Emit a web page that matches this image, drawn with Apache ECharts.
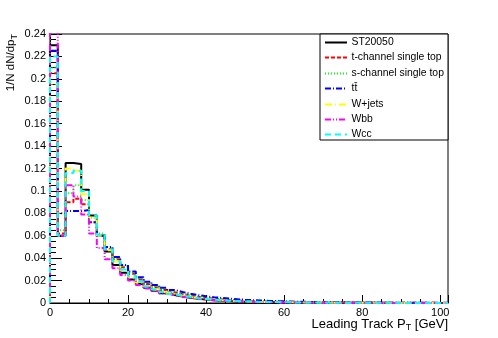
<!DOCTYPE html>
<html>
<head>
<meta charset="utf-8">
<script src="https://cdn.jsdelivr.net/npm/echarts@6/dist/echarts.min.js"></script>
<style>html,body{margin:0;padding:0;background:#fff;}#c{width:498px;height:338px;}</style>
</head>
<body>
<div id="c"></div>
<script>
// Histogram binning (GeV)
const BIN_WIDTH = 2;
const X_MAX = 102;
const seriesNames = ['ST20050', 't-channel single top', 's-channel single top', 'tt\u0304', 'W+jets', 'Wbb', 'Wcc'];

const st20050 = [0.230,0.060,0.125,0.124,0.101,0.078,0.060,0.046,0.034,0.027,
0.021,0.017,0.0135,0.011,0.0088,0.0072,0.0058,0.0047,0.0038,0.0031,
0.0025,0.0021,0.0017,0.0014,0.0012,0.0010,0.0009,0.0008,0.0007,0.0006,
0.0005,0.00045,0.0004,0.00035,0.0003,0.00028,0.00025,0.00022,0.0002,0.00018,
0.00016,0.00015,0.00014,0.00012,0.00011,0.0001,0.0001,0.00009,0.00008,0.00008,
0.00007];
const tChannel = [0.205,0.062,0.090,0.093,0.088,0.072,0.060,0.048,0.039,0.032,
0.026,0.021,0.017,0.014,0.0115,0.0095,0.0080,0.0066,0.0055,0.0046,
0.0039,0.0033,0.0028,0.0024,0.0020,0.0017,0.0015,0.0013,0.0011,0.0010,
0.0009,0.0008,0.0007,0.0006,0.00055,0.0005,0.00045,0.0004,0.00035,0.0003,
0.0003,0.00025,0.00022,0.0002,0.00018,0.00016,0.00015,0.00013,0.00012,0.0001,
0.0001];
const sChannel = [0.210,0.065,0.098,0.105,0.092,0.076,0.062,0.050,0.040,0.033,
0.027,0.022,0.018,0.0145,0.012,0.0098,0.0080,0.0066,0.0055,0.0045,
0.0038,0.0032,0.0027,0.0023,0.0019,0.0016,0.0014,0.0012,0.0010,0.0009,
0.0008,0.0007,0.0006,0.00055,0.0005,0.00045,0.0004,0.00035,0.0003,0.00027,
0.00025,0.00022,0.0002,0.00018,0.00016,0.00015,0.00013,0.00012,0.0001,0.0001,
0.00009];
const ttbar = [0.225,0.080,0.082,0.082,0.083,0.072,0.060,0.050,0.041,0.034,
0.028,0.023,0.019,0.016,0.0135,0.0115,0.0098,0.0083,0.0070,0.0060,
0.0052,0.0045,0.0039,0.0034,0.0029,0.0025,0.0022,0.0019,0.0017,0.0015,
0.0013,0.0011,0.0010,0.0009,0.0008,0.0007,0.0006,0.00055,0.0005,0.00045,
0.0004,0.00035,0.0003,0.00028,0.00025,0.00022,0.0002,0.00018,0.00016,0.00015,
0.00013];
const wjets = [0.195,0.080,0.120,0.118,0.097,0.076,0.060,0.047,0.037,0.029,
0.023,0.018,0.0145,0.0118,0.0095,0.0078,0.0063,0.0052,0.0043,0.0035,
0.0029,0.0024,0.0020,0.0017,0.0014,0.0012,0.0010,0.0009,0.0008,0.0007,
0.0006,0.0005,0.00045,0.0004,0.00035,0.0003,0.00027,0.00024,0.00021,0.00019,
0.00017,0.00015,0.00013,0.00012,0.0001,0.0001,0.00009,0.00008,0.00007,0.00007,
0.00006];
const wbb = [0.250,0.060,0.105,0.095,0.079,0.062,0.049,0.039,0.031,0.025,
0.020,0.016,0.013,0.0105,0.0085,0.0069,0.0056,0.0046,0.0037,0.0030,
0.0025,0.0020,0.0017,0.0014,0.0012,0.0010,0.0008,0.0007,0.0006,0.0005,
0.00045,0.0004,0.00035,0.0003,0.00026,0.00023,0.0002,0.00018,0.00016,0.00014,
0.00012,0.00011,0.0001,0.00009,0.00008,0.00007,0.00007,0.00006,0.00005,0.00005,
0.00004];
const wcc = [0.220,0.060,0.116,0.118,0.100,0.078,0.061,0.048,0.037,0.030,
0.024,0.019,0.015,0.0122,0.0098,0.008,0.0065,0.0053,0.0043,0.0035,
0.0029,0.0024,0.002,0.0017,0.0014,0.0012,0.001,0.0009,0.0008,0.0007,
0.0006,0.0005,0.00045,0.0004,0.00035,0.0003,0.00027,0.00024,0.00021,0.00019,
0.00017,0.00015,0.00013,0.00012,0.0001,0.0001,0.00009,0.00008,0.00007,0.00007,
0.00006];

const allValues = [st20050, tChannel, sChannel, ttbar, wjets, wbb, wcc];
const colors = ['#000000', '#ff0000', '#00ff00', '#0000ff', '#ffff00', '#ff00ff', '#00ffff'];
const dashes = ['solid', [4, 2], [1, 2], [6, 2, 1, 2], [7, 3, 1, 3], [6, 2, 1, 2, 1, 2], [6, 4]];

function toSteps(values) {
  const pts = [[0, 0]];
  values.forEach((v, i) => pts.push([i * BIN_WIDTH, v]));
  pts.push([values.length * BIN_WIDTH, values[values.length - 1]]);
  return pts;
}

const FONT = "'Liberation Sans', Arial, Helvetica, sans-serif";
const chart = echarts.init(document.getElementById('c'), null, {renderer: 'canvas'});

const series = allValues.map((vals, i) => ({
  name: seriesNames[i],
  type: 'line',
  step: 'end',
  data: toSteps(vals),
  showSymbol: false,
  symbol: 'none',
  clip: true,
  z: 2 + i,
  lineStyle: {color: colors[i], width: 2, type: dashes[i]},
  itemStyle: {color: colors[i]},
  emphasis: {disabled: true}
}));

// Legend drawn as graphic elements (box, line samples, labels)
const LEG_X = 320, LEG_Y = 34, LEG_W = 128, LEG_H = 106, ROW0 = 42, ROW_STEP = 15.4;
const legendGraphics = [{type: 'rect', z: 8, shape: {x: LEG_X, y: LEG_Y, width: LEG_W, height: LEG_H},
  style: {fill: '#fff', stroke: '#000', lineWidth: 1}}];
seriesNames.forEach((name, i) => {
  const y = Math.round(ROW0 + i * ROW_STEP) + 0.5;
  legendGraphics.push({type: 'line', z: 9, shape: {x1: 325, y1: y, x2: 347, y2: y},
    style: {stroke: colors[i], lineWidth: 2, lineDash: dashes[i] === 'solid' ? null : dashes[i]}});
  legendGraphics.push({type: 'text', z: 9, x: 351.5, y: y, style: {text: name, align: 'left', verticalAlign: 'middle',
    fontSize: 10.4, fontFamily: FONT, fill: '#000'}});
});

chart.setOption({
  animation: false,
  backgroundColor: '#ffffff',
  textStyle: {fontFamily: FONT},
  grid: {left: 50, top: 34, right: 50, bottom: 35, show: true, borderColor: '#000', borderWidth: 1, containLabel: false},
  xAxis: {
    type: 'value', min: 0, max: X_MAX, interval: 20,
    axisLine: {show: true, onZero: false, lineStyle: {color: '#000', width: 1}},
    axisTick: {show: true, inside: true, length: 8, lineStyle: {color: '#000'}},
    minorTick: {show: true, splitNumber: 4, length: 4, lineStyle: {color: '#000'}},
    splitLine: {show: false},
    axisLabel: {color: '#000', fontSize: 11, fontFamily: FONT, margin: 4, showMaxLabel: false,
      formatter: v => (v % 20 === 0 ? String(v) : '')}
  },
  yAxis: {
    type: 'value', min: 0, max: 0.24, interval: 0.02,
    axisLine: {show: true, onZero: false, lineStyle: {color: '#000', width: 1}},
    axisTick: {show: true, inside: true, length: 12, lineStyle: {color: '#000'}},
    minorTick: {show: true, splitNumber: 4, length: 6, lineStyle: {color: '#000'}},
    splitLine: {show: false},
    axisLabel: {color: '#000', fontSize: 11, fontFamily: FONT, margin: 4,
      formatter: v => String(Math.round(v * 100) / 100)}
  },
  graphic: legendGraphics.concat([
    {type: 'text', z: 20, x: 448, y: 324, style: {
      text: 'Leading Track P{s|T} [GeV]', align: 'right', verticalAlign: 'middle',
      fontSize: 13, fontFamily: FONT, fill: '#000',
      rich: {s: {fontSize: 9, fontFamily: FONT, fill: '#000', padding: [8, 0, 0, 0]}}
    }},
    {type: 'text', z: 20, x: 11, y: 34, rotation: Math.PI / 2, style: {
      text: '1/N dN/dp{s|T}', align: 'right', verticalAlign: 'middle',
      fontSize: 11.5, fontFamily: FONT, fill: '#000',
      rich: {s: {fontSize: 9, fontFamily: FONT, fill: '#000', padding: [8, 0, 0, 0]}}
    }}
  ]),
  series: series
});
</script>
</body>
</html>
